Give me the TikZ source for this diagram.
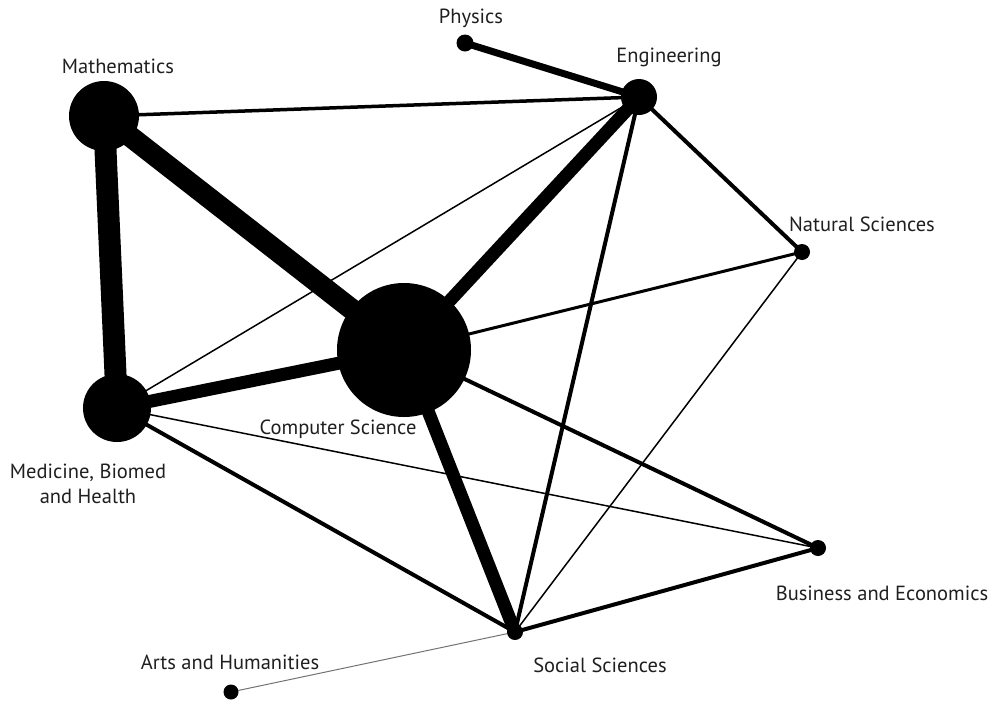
\documentclass[tikz,border=0pt]{standalone}
\usepackage{fontspec}
\setmainfont{PT Sans}
\pgfdeclarelayer{edges}
\pgfsetlayers{edges,main}
\tikzset{
  dot/.style={circle, fill=black, inner sep=0pt, minimum size=#1},
  lbl/.style={font=\fontsize{20.5}{25}\selectfont, text=black!88, align=center, inner sep=0pt},
  link/.style={line width=#1, draw=black},
}
\begin{document}
\begin{tikzpicture}[x=1pt,y=-1pt]
\useasboundingbox (0,0) rectangle (991,702);
% nodes
\node[dot=70pt]  (math) at (104,116) {};
\node[dot=17pt]  (phys) at (465,43) {};
\node[dot=36pt]  (eng)  at (639,97) {};
\node[dot=16pt]  (nat)  at (802,252) {};
\node[dot=134pt] (cs)   at (404,350) {};
\node[dot=68pt]  (med)  at (117,408) {};
\node[dot=16pt]  (bus)  at (818,548) {};
\node[dot=16pt]  (soc)  at (515,632) {};
\node[dot=15pt]  (arts) at (231,692) {};
% labels
\node[lbl] (lmath) at (118,66) {Mathematics};
\node[lbl] (lphys) at (471,18) {Physics};
\node[lbl] (leng)  at (669,57) {Engineering};
\node[lbl] (lnat)  at (862,224) {Natural Sciences};
\node[lbl] (lcs)   at (338,429) {Computer Science};
\node[lbl] (lmed)  at (88,484) {Medicine, Biomed\\and Health};
\node[lbl] (lbus)  at (882,593) {Business and Economics};
\node[lbl] (lsoc)  at (600,665) {Social Sciences};
\node[lbl] (larts) at (230,662) {Arts and Humanities};
% edges
\begin{pgfonlayer}{edges}
\draw[link=21pt]  (math.center) -- (cs.center);
\draw[link=22pt]  (math.center) -- (med.center);
\draw[link=3.5pt] (math.center) -- (eng.center);
\draw[link=7pt]   (phys.center) -- (eng.center);
\draw[link=13pt]  (eng.center) -- (cs.center);
\draw[link=1.5pt] (eng.center) -- (med.center);
\draw[link=4pt]   (eng.center) -- (nat.center);
\draw[link=4pt]   (eng.center) -- (soc.center);
\draw[link=3pt]   (cs.center) -- (nat.center);
\draw[link=1.5pt] (nat.center) -- (soc.center);
\draw[link=13pt]  (cs.center) -- (med.center);
\draw[link=13pt]  (cs.center) -- (soc.center);
\draw[link=4pt]   (cs.center) -- (bus.center);
\draw[link=4pt]   (med.center) -- (soc.center);
\draw[link=1.5pt] (med.center) -- (bus.center);
\draw[link=4pt]   (soc.center) -- (bus.center);
\draw[line width=1pt, draw=black!55] (soc.center) -- (arts.center);
\end{pgfonlayer}
\end{tikzpicture}
\end{document}
